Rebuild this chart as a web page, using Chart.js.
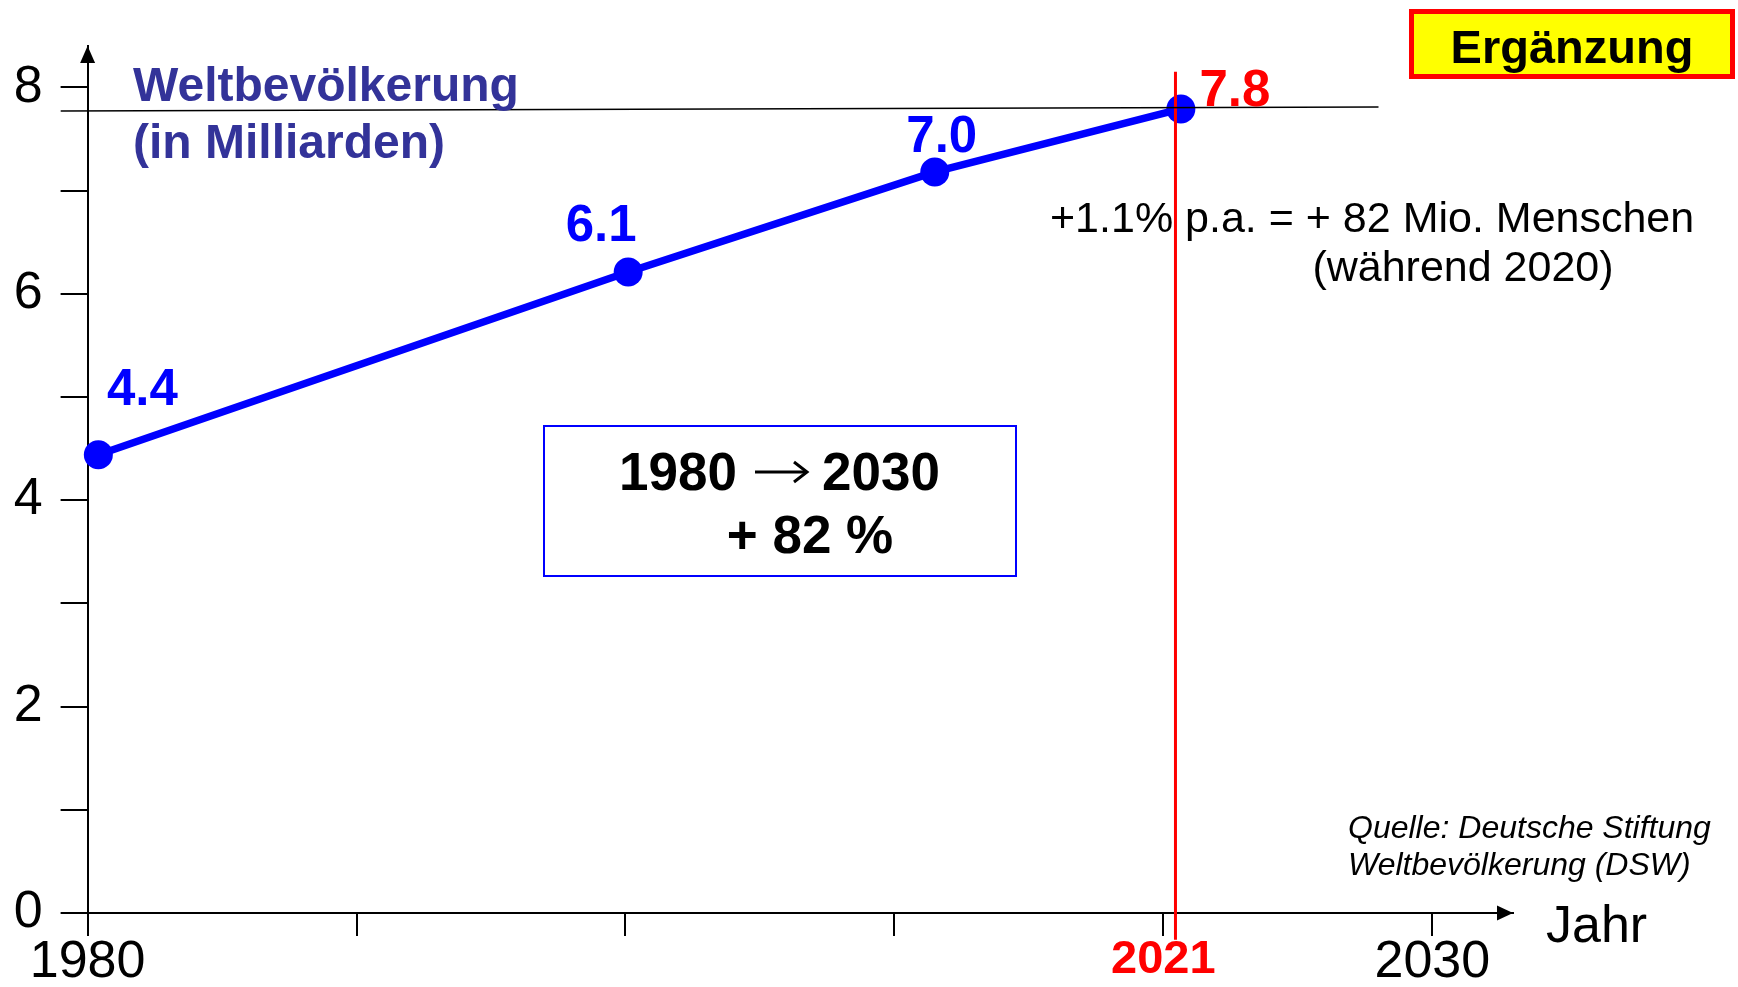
<!DOCTYPE html>
<html lang="de">
<head>
<meta charset="utf-8">
<title>Weltbevölkerung</title>
<script src="https://cdn.jsdelivr.net/npm/chart.js@4.4.1/dist/chart.umd.min.js"></script>
<style>
  html, body { margin: 0; padding: 0; background: #fff; }
  #wrap { position: relative; width: 1738px; height: 987px; }
</style>
</head>
<body>
<div id="wrap"><canvas id="popChart"></canvas></div>
<script>
/************************************************************
 * DATA
 ************************************************************/
const years = [1980.4, 2000.1, 2011.5, 2020.65];
const population = [4.44, 6.21, 7.18, 7.79];
const pointLabels = ["4.4", "6.1", "7.0", "7.8"];

const refLineYears = [1979, 2028];
const refLineValues = [7.77, 7.81];

const markerYears = [2020.45, 2020.45];
const markerValues = [-0.26, 8.15];

const xTicks = [1980, 1990, 2000, 2010, 2020, 2030];
const xTickLabels = ["1980", "", "", "", "2021", "2030"];
const yTicks = [0, 1, 2, 3, 4, 5, 6, 7, 8];
const yTickLabels = ["0", "", "2", "", "4", "", "6", "", "8"];

/************************************************************
 * STYLE HELPERS
 ************************************************************/
const FONT = '"Liberation Sans", Arial, Helvetica, sans-serif';
const BLUE = "#0000ff";
const RED = "#ff0000";
const TITLE_BLUE = "#333399";
const HIGHLIGHT_LABEL = "2021";

// label offsets from each point (pixels), colour per label
const labelOffsets = [[44, -50], [-27, -31], [7, -20], [54, -3]];
const labelColors = [BLUE, BLUE, BLUE, RED];

function drawText(ctx, str, x, y, font, color, align = "left") {
  ctx.save();
  ctx.font = font;
  ctx.fillStyle = color;
  ctx.textAlign = align;
  ctx.textBaseline = "alphabetic";
  ctx.fillText(str, x, y);
  ctx.restore();
}

// thin right arrow like the Symbol-font arrow of the original
function drawArrow(ctx, x1, x2, y) {
  ctx.save();
  ctx.strokeStyle = "#000";
  ctx.lineWidth = 3;
  ctx.beginPath();
  ctx.moveTo(x1, y);
  ctx.lineTo(x2 - 1.5, y);
  ctx.stroke();
  ctx.beginPath();
  ctx.moveTo(x2 - 13, y - 10);
  ctx.lineTo(x2, y);
  ctx.lineTo(x2 - 13, y + 10);
  ctx.stroke();
  ctx.restore();
}

const annotations = {
  id: "annotations",
  afterDatasetsDraw(chart) {
    const { ctx, chartArea: a, scales } = chart;
    const xs = scales.x, ys = scales.y;

    // axis arrow heads
    ctx.save();
    ctx.fillStyle = "#000";
    ctx.beginPath();
    ctx.moveTo(a.left, a.top);
    ctx.lineTo(a.left - 7.5, a.top + 17);
    ctx.lineTo(a.left + 7.5, a.top + 17);
    ctx.closePath();
    ctx.fill();
    ctx.beginPath();
    ctx.moveTo(a.right, a.bottom);
    ctx.lineTo(a.right - 16, a.bottom - 7.5);
    ctx.lineTo(a.right - 16, a.bottom + 7.5);
    ctx.closePath();
    ctx.fill();
    ctx.restore();

    // value labels at the points
    years.forEach((yr, i) => {
      const px = xs.getPixelForValue(yr);
      const py = ys.getPixelForValue(population[i]);
      drawText(ctx, pointLabels[i], px + labelOffsets[i][0], py + labelOffsets[i][1],
        `bold 51px ${FONT}`, labelColors[i], "center");
    });

    // title
    drawText(ctx, "Weltbevölkerung", 133, 101, `bold 48px ${FONT}`, TITLE_BLUE);
    drawText(ctx, "(in Milliarden)", 133, 158, `bold 48px ${FONT}`, TITLE_BLUE);

    // growth note
    drawText(ctx, "+1.1% p.a. = + 82 Mio. Menschen", 1050, 232, `43px ${FONT}`, "#000");
    drawText(ctx, "(während 2020)", 1463, 281, `43px ${FONT}`, "#000", "center");

    // boxed summary
    ctx.save();
    ctx.strokeStyle = BLUE;
    ctx.lineWidth = 2;
    ctx.strokeRect(544, 426, 472, 150);
    ctx.restore();
    drawText(ctx, "1980", 737, 490, `bold 53px ${FONT}`, "#000", "right");
    drawArrow(ctx, 755, 807, 472);
    drawText(ctx, "2030", 822, 490, `bold 53px ${FONT}`, "#000", "left");
    drawText(ctx, "+ 82 %", 810, 553, `bold 53px ${FONT}`, "#000", "center");

    // "Ergänzung" badge
    ctx.save();
    ctx.fillStyle = "#ffff00";
    ctx.strokeStyle = RED;
    ctx.lineWidth = 5;
    ctx.fillRect(1411.5, 11.5, 321, 65);
    ctx.strokeRect(1411.5, 11.5, 321, 65);
    ctx.restore();
    drawText(ctx, "Ergänzung", 1572, 63, `bold 47px ${FONT}`, "#000", "center");

    // source + axis title
    drawText(ctx, "Quelle: Deutsche Stiftung", 1348, 838, `italic 32px ${FONT}`, "#000");
    drawText(ctx, "Weltbevölkerung (DSW)", 1348, 875, `italic 32px ${FONT}`, "#000");
    drawText(ctx, "Jahr", 1546, 942, `52px ${FONT}`, "#000");
  },
};

/************************************************************
 * CHART
 ************************************************************/
const ctx = document.getElementById("popChart");

new Chart(ctx, {
  type: "line",
  data: {
    datasets: [
      {
        label: "Weltbevölkerung",
        data: years.map((yr, i) => ({ x: yr, y: population[i] })),
        borderColor: BLUE,
        borderWidth: 7.5,
        backgroundColor: BLUE,
        pointBackgroundColor: BLUE,
        pointBorderWidth: 0,
        pointRadius: 14.5,
        tension: 0,
        clip: false,
        order: 3,
      },
      {
        label: "2021",
        data: markerYears.map((yr, i) => ({ x: yr, y: markerValues[i] })),
        borderColor: RED,
        borderWidth: 3,
        pointRadius: 0,
        clip: false,
        order: 2,
      },
      {
        label: "Stand 2021",
        data: refLineYears.map((yr, i) => ({ x: yr, y: refLineValues[i] })),
        borderColor: "#000",
        borderWidth: 1.5,
        pointRadius: 0,
        clip: false,
        order: 1,
      },
    ],
  },
  options: {
    responsive: true,
    maintainAspectRatio: false,
    animation: false,
    events: [],
    layout: { padding: { top: 46, right: 225, left: 0, bottom: 0 } },
    plugins: {
      legend: { display: false },
      tooltip: { enabled: false },
    },
    scales: {
      x: {
        type: "linear",
        min: 1980,
        max: 2033,
        afterFit: (s) => { s.height = 74; },
        afterBuildTicks: (s) => { s.ticks = xTicks.map((v) => ({ value: v })); },
        border: { display: true, color: "#000", width: 2 },
        grid: { drawOnChartArea: false, drawTicks: true, tickLength: 23, color: "#000", lineWidth: 2 },
        ticks: {
          autoSkip: false,
          maxRotation: 0,
          minRotation: 0,
          padding: 1,
          callback: (v) => xTickLabels[xTicks.indexOf(v)],
          color: (c) => (xTickLabels[c.index] === HIGHLIGHT_LABEL ? RED : "#000"),
          font: (c) => xTickLabels[c.index] === HIGHLIGHT_LABEL
            ? { family: FONT, size: 47, weight: "bold", lineHeight: 1 }
            : { family: FONT, size: 52, weight: "normal", lineHeight: 1 },
        },
      },
      y: {
        type: "linear",
        min: 0,
        max: 8.4,
        afterFit: (s) => { s.width = 87.6; },
        afterBuildTicks: (s) => { s.ticks = yTicks.map((v) => ({ value: v })); },
        border: { display: true, color: "#000", width: 2 },
        grid: { drawOnChartArea: false, drawTicks: true, tickLength: 27, color: "#000", lineWidth: 2 },
        ticks: {
          padding: 18,
          color: "#000",
          font: { family: FONT, size: 52, lineHeight: 1 },
          callback: (v) => yTickLabels[yTicks.indexOf(v)],
        },
      },
    },
  },
  plugins: [annotations],
});
</script>
</body>
</html>
